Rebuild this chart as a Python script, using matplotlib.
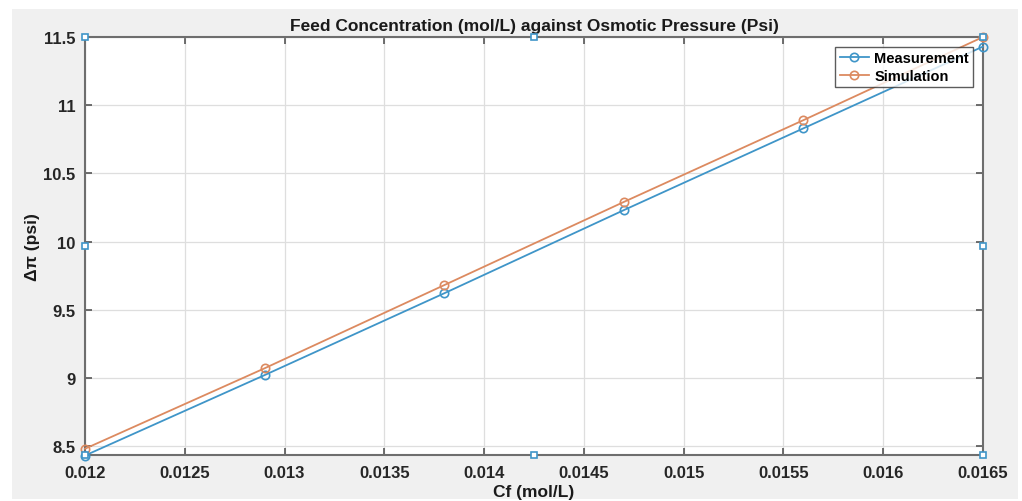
import matplotlib.pyplot as plt
from matplotlib.patches import Rectangle
from matplotlib.ticker import FuncFormatter

# Feed concentration (mol/L)
cf = [0.012, 0.0129, 0.0138, 0.0147, 0.0156, 0.0165]
# osmotic pressure difference (psi)
measurement = [8.43, 9.02, 9.62, 10.23, 10.83, 11.43]
simulation = [8.48, 9.07, 9.68, 10.29, 10.89, 11.50]

x_ticks = [0.012, 0.0125, 0.013, 0.0135, 0.014, 0.0145, 0.015, 0.0155, 0.016, 0.0165]
y_ticks = [8.5, 9, 9.5, 10, 10.5, 11, 11.5]

plt.rcParams['font.family'] = ['Liberation Sans', 'DejaVu Sans']
plt.rcParams['font.weight'] = 'bold'

fig = plt.figure(figsize=(10.22, 5.02), dpi=100)
fig.patch.set_facecolor('white')
# grey MATLAB figure window background
fig.patches.append(Rectangle((12 / 1022, 2 / 502), 1006 / 1022, 490 / 502,
                             transform=fig.transFigure, facecolor='#f0f0f0',
                             edgecolor='none', zorder=-10))

ax = fig.add_axes([85 / 1022, 46 / 502, 898 / 1022, 418 / 502])
ax.set_facecolor('white')

blue = '#3f95c8'
orange = '#dc8a60'
ax.plot(cf, measurement, '-o', color=blue, lw=1.3, ms=6, mfc='none', mew=1.2,
        label='Measurement', clip_on=False, zorder=3)
ax.plot(cf, simulation, '-o', color=orange, lw=1.3, ms=6, mfc='none', mew=1.2,
        label='Simulation', clip_on=False, zorder=3)

ax.set_xlim(0.012, 0.0165)
ax.set_ylim(8.434, 11.5)
ax.set_xticks(x_ticks)
ax.set_yticks(y_ticks)
fmt = FuncFormatter(lambda v, p: f'{v:g}')
ax.xaxis.set_major_formatter(fmt)
ax.yaxis.set_major_formatter(fmt)

ax.grid(True, color='#dedede', lw=0.9)
ax.set_axisbelow(True)
ax.tick_params(direction='in', length=5, width=1.2, color='#555555',
               labelsize=12, labelcolor='#262626', top=True, right=True, pad=7)
for s in ax.spines.values():
    s.set_color('#6e6e6e')
    s.set_linewidth(1.5)

ax.set_title('Feed Concentration (mol/L) against Osmotic Pressure (Psi)',
             fontsize=12.5, fontweight='bold', color='#1a1a1a', pad=5)
ax.set_xlabel('Cf (mol/L)', fontsize=12.5, fontweight='bold', color='#1a1a1a', labelpad=3)
ax.set_ylabel('Δπ (psi)', fontsize=12.5, fontweight='bold', color='#1a1a1a', labelpad=2)

leg = ax.legend(loc='upper right', bbox_to_anchor=(0.989, 0.976), fontsize=10.5,
                frameon=True, fancybox=False, borderpad=0.3, handlelength=2.0,
                handletextpad=0.35, borderaxespad=0, labelspacing=0.25)
leg.get_frame().set_edgecolor('#333333')
leg.get_frame().set_linewidth(1.0)

# selection handles around the axes box
hx = [0, 0.5, 1, 1, 1, 0.5, 0, 0]
hy = [0, 0, 0, 0.5, 1, 1, 1, 0.5]
ax.plot(hx, hy, 's', transform=ax.transAxes, ms=4, mfc='white', mec=blue,
        mew=1.2, ls='none', clip_on=False, zorder=5)

fig.savefig('out.png', dpi=100)
